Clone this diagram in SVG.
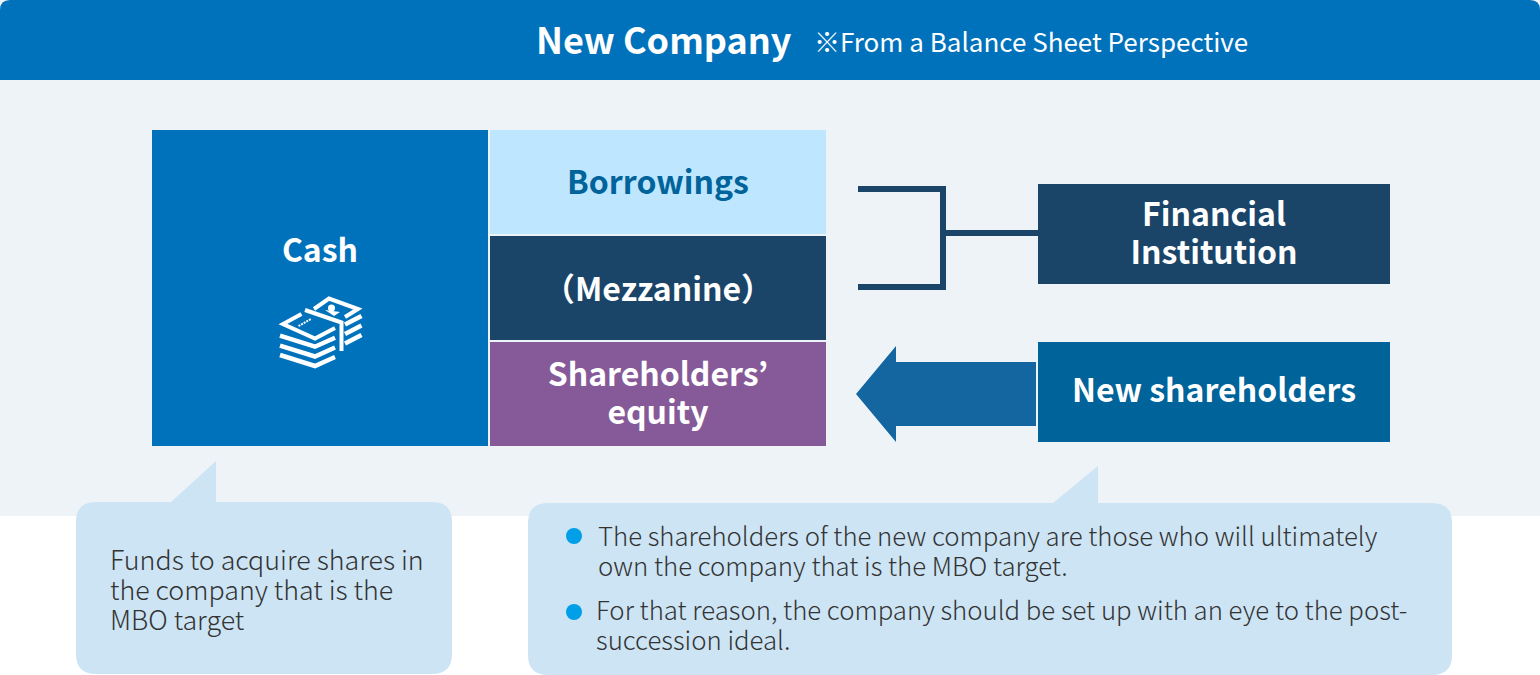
<svg xmlns="http://www.w3.org/2000/svg" width="1540" height="675" viewBox="0 0 1540 675">
<style>
text{font-family:"Noto Sans CJK JP","Noto Sans",sans-serif}
.h{font-weight:700;fill:#fff;font-size:32px;text-anchor:middle}
.b{font-size:26.800px;fill:#333;font-weight:300}
.c{font-size:25.750px;fill:#333;font-weight:300}
.bubble{fill:#cce4f4}
.dot{fill:#009fe8}
.conn{fill:none;stroke:#1a4569;stroke-width:6}
.ic{fill:none;stroke:#fff;stroke-width:4}
</style>
<rect width="1540" height="516" fill="#eef3f8"/>
<g id="header">
<path d="M0 80V10Q0 0 10 0H1530Q1540 0 1540 10V80Z" fill="#0072bc"/>
<text x="536" y="54" font-size="36" font-weight="700" fill="#fff">New Company</text>
<text x="814" y="52" font-size="26" fill="#fff">※From a Balance Sheet Perspective</text>
</g>
<g id="cash">
<rect x="152" y="130" width="336" height="316" fill="#0072bc"/>
<text class="h" x="320" y="262">Cash</text>
<g id="cash-icon" class="ic">
<path d="M301.500 314L283 324L315 338.500L335 328"/>
<path d="M280 335.700L315 346.700L335 337.700M280 345.700L315 356.500L335 347.500M280 355L315 366L335 357" stroke-width="4.500"/>
<path d="M305 310L341.500 322.500V351"/>
<path d="M314 309L329 298.500L358 309L345 317"/>
<path d="M345 324.500L361.500 316M345 334L361.500 325.500M345 343.500L361.500 335" stroke-width="4.500"/>
<path d="M298.500 326L311 319" stroke-width="2" stroke-dasharray="2 1"/>
<circle cx="331.500" cy="308" r="3.500" fill="#fff" stroke="none"/>
<path d="M325 310L340 312L334 316Z" fill="#fff" stroke="none"/>
</g>
</g>
<g id="borrowings">
<rect x="490" y="130" width="336" height="104" fill="#bfe6ff"/>
<text class="h" x="658" y="194" style="fill:#00639a">Borrowings</text>
</g>
<g id="mezzanine">
<rect x="490" y="236" width="336" height="104" fill="#1a4569"/>
<text class="h" x="658" y="301">（Mezzanine）</text>
</g>
<g id="equity">
<rect x="490" y="342" width="336" height="104" fill="#865a98"/>
<text class="h" x="658" y="386">Shareholders’</text>
<text class="h" x="658" y="424">equity</text>
</g>
<g id="financial-institution">
<rect x="1038" y="184" width="352" height="100" fill="#1a4569"/>
<text class="h" x="1214" y="226">Financial</text>
<text class="h" x="1214" y="264">Institution</text>
</g>
<g id="new-shareholders">
<rect x="1038" y="342" width="352" height="100" fill="#00639a"/>
<text class="h" x="1214" y="402">New shareholders</text>
</g>
<g id="connectors">
<path class="conn" d="M858 189H943V287H858M943 233H1038"/>
<path d="M856 394L896 346V362H1036V426H896V442Z" fill="#13669f"/>
</g>
<g id="note-cash">
<path class="bubble" d="M96 502H171L216 461V502H432Q452 502 452 522V654Q452 674 432 674H96Q76 674 76 654V522Q76 502 96 502Z"/>
<text class="b" x="110" y="570">Funds to acquire shares in</text>
<text class="b" x="110" y="600">the company that is the</text>
<text class="b" x="110" y="630">MBO target</text>
</g>
<g id="note-shareholders">
<path class="bubble" d="M548 503H1053L1098 466V503H1432Q1452 503 1452 523V655Q1452 675 1432 675H548Q528 675 528 655V523Q528 503 548 503Z"/>
<circle class="dot" cx="574" cy="536" r="8"/>
<text class="c" x="598" y="546">The shareholders of the new company are those who will ultimately</text>
<text class="c" x="598" y="576">own the company that is the MBO target.</text>
<circle class="dot" cx="574" cy="612" r="8"/>
<text class="c" x="596" y="620">For that reason, the company should be set up with an eye to the post-</text>
<text class="c" x="596" y="650">succession ideal.</text>
</g>
</svg>
